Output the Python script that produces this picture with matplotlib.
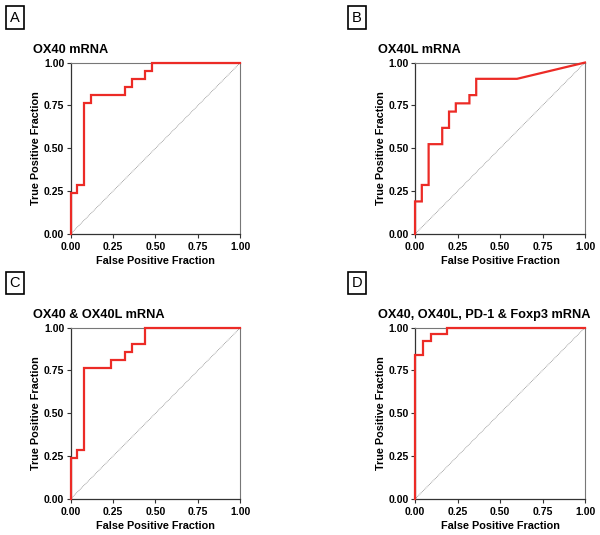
import matplotlib
matplotlib.use("Agg")
import matplotlib.pyplot as plt

plt.rcParams['font.family'] = ['Liberation Sans', 'DejaVu Sans']

# ROC step curves (vertices)
titles = ["OX40 mRNA", "OX40L mRNA", "OX40 & OX40L mRNA",
          "OX40, OX40L, PD-1 & Foxp3 mRNA"]
letters = ["A", "B", "C", "D"]

fpr_a = [0, 0, 0.04, 0.04, 0.08, 0.08, 0.12, 0.12, 0.32, 0.32, 0.36, 0.36, 0.44, 0.44, 0.48, 0.48, 1.0]
tpr_a = [0, 0.238, 0.238, 0.286, 0.286, 0.762, 0.762, 0.810, 0.810, 0.857, 0.857, 0.905, 0.905, 0.952, 0.952, 1.0, 1.0]

fpr_b = [0, 0, 0.04, 0.04, 0.08, 0.08, 0.16, 0.16, 0.20, 0.20, 0.24, 0.24, 0.32, 0.32, 0.36, 0.36, 0.60, 1.0]
tpr_b = [0, 0.19, 0.19, 0.286, 0.286, 0.524, 0.524, 0.619, 0.619, 0.714, 0.714, 0.762, 0.762, 0.810, 0.810, 0.905, 0.905, 1.0]

fpr_c = [0, 0, 0.04, 0.04, 0.08, 0.08, 0.24, 0.24, 0.32, 0.32, 0.36, 0.36, 0.44, 0.44, 1.0]
tpr_c = [0, 0.238, 0.238, 0.286, 0.286, 0.762, 0.762, 0.810, 0.810, 0.857, 0.857, 0.905, 0.905, 1.0, 1.0]

fpr_d = [0, 0, 0.048, 0.048, 0.095, 0.095, 0.19, 0.19, 1.0]
tpr_d = [0, 0.84, 0.84, 0.92, 0.92, 0.96, 0.96, 1.0, 1.0]

ticks = [0, 0.25, 0.5, 0.75, 1.0]
tick_labels = ["0.00", "0.25", "0.50", "0.75", "1.00"]

curves = [(fpr_a, tpr_a), (fpr_b, tpr_b), (fpr_c, tpr_c), (fpr_d, tpr_d)]

fig = plt.figure(figsize=(6, 5.35), dpi=100)

# axes boxes in figure fractions
lefts = [0.1175, 0.6917, 0.1175, 0.6917]
bottoms = [0.5626, 0.5626, 0.0673, 0.0673]
w, h = 0.2833, 0.3205
# letter box positions (pixels from top-left)
letter_xy = [(15, 17.5), (357, 17.5), (15, 283), (357, 283)]

for i, (fx, ty) in enumerate(curves):
    ax = fig.add_axes([lefts[i], bottoms[i], w, h])
    ax.plot([0, 1], [0, 1], color="#888888", lw=0.6, ls=(0, (1, 1)))
    ax.plot(fx, ty, color="#ec2b26", lw=1.6, solid_joinstyle="miter", clip_on=False, zorder=3)
    ax.set_xlim(0, 1)
    ax.set_ylim(0, 1)
    ax.set_xticks(ticks)
    ax.set_xticklabels(tick_labels)
    ax.set_yticks(ticks)
    ax.set_yticklabels(tick_labels)
    for s in ["left", "bottom"]:
        ax.spines[s].set_color("#333333")
        ax.spines[s].set_linewidth(0.9)
    for s in ["top", "right"]:
        ax.spines[s].set_color("#777777")
        ax.spines[s].set_linewidth(0.8)
    ax.tick_params(direction="out", length=3, width=0.8, color="#333333",
                   labelsize=7.5, pad=1.5)
    ax.tick_params(axis="x", pad=3)
    for lab in ax.get_xticklabels() + ax.get_yticklabels():
        lab.set_fontweight("bold")
    ax.set_xlabel("False Positive Fraction", fontsize=7.8, fontweight="bold", labelpad=2.5)
    ax.set_ylabel("True Positive Fraction", fontsize=7.8, fontweight="bold", labelpad=2)
    ax.set_title(titles[i], loc="left", x=-0.22, fontsize=9.2, fontweight="bold", pad=7)

    lx, ly = letter_xy[i]
    fig.text(lx / 600, 1 - ly / 535, letters[i], fontsize=10.5, ha="center", va="center",
             bbox=dict(boxstyle="square,pad=0.28", fc="white", ec="black", lw=1.2))

fig.savefig("out.png", dpi=100)
